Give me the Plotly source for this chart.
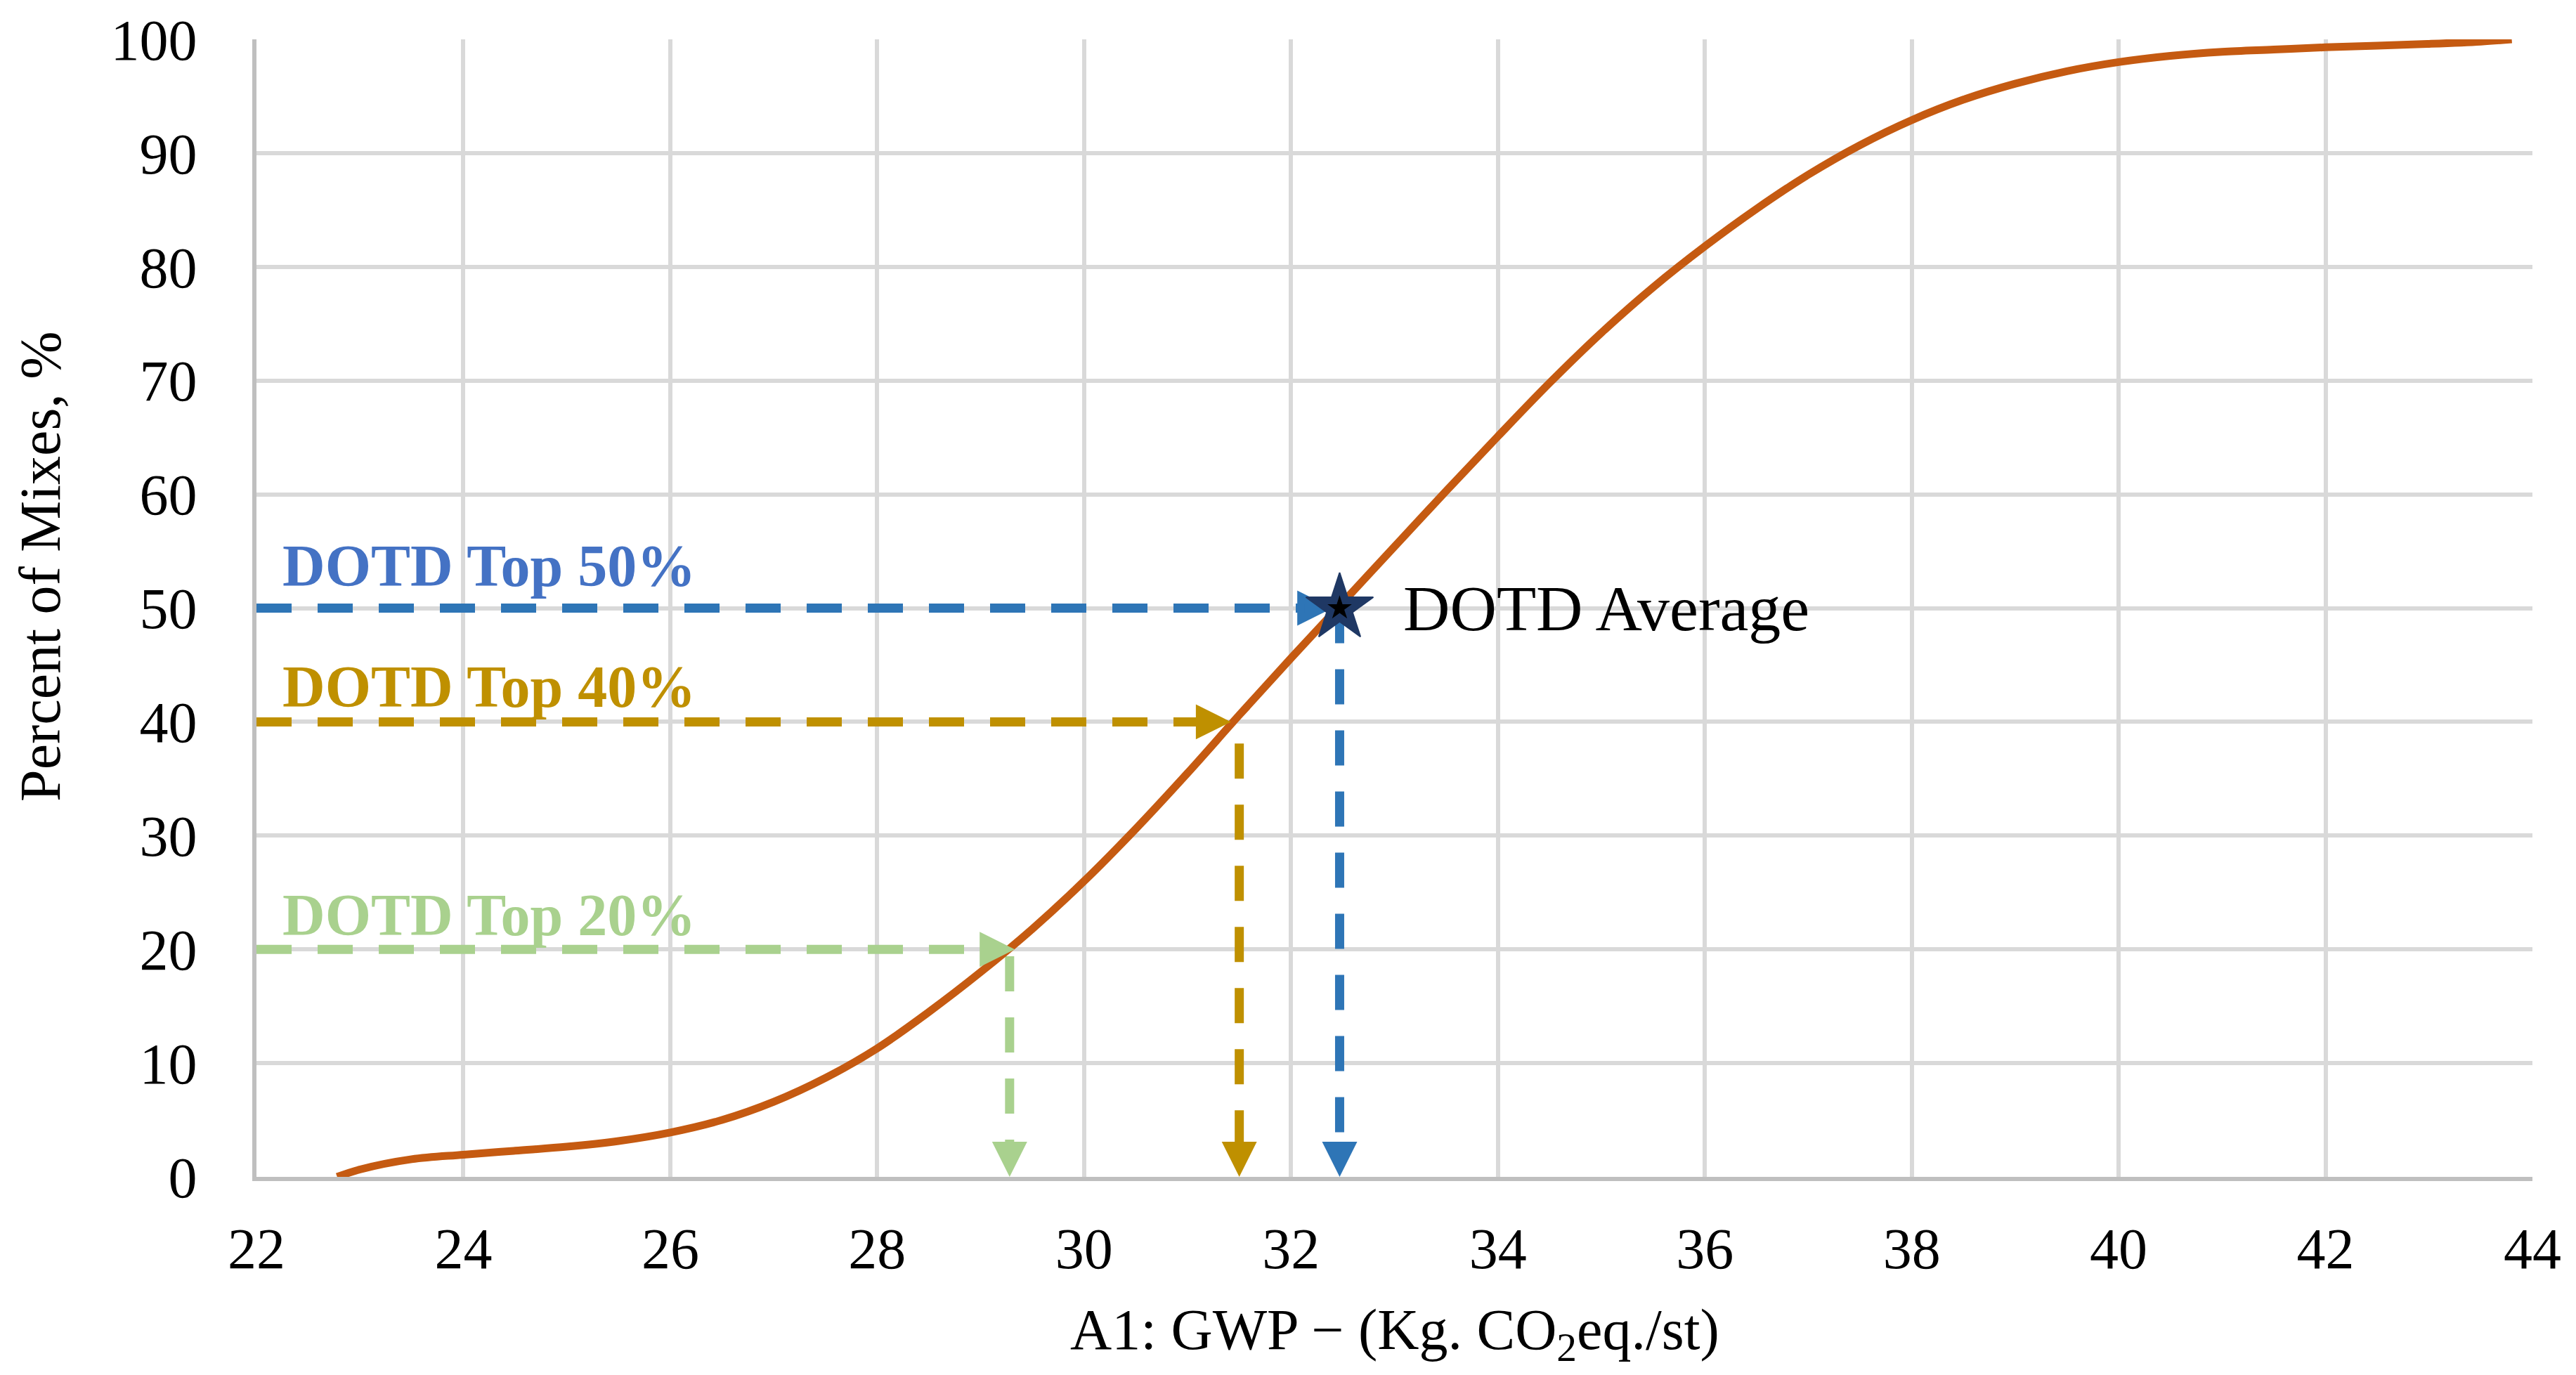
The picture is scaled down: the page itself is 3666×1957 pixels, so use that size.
import plotly.graph_objects as go

# ---------------- data ----------------
gwp = [22.78, 23.0, 23.5, 24.0, 24.5, 25.0, 25.5, 26.0, 26.5, 27.0, 27.5,
       28.0, 28.5, 29.0, 29.5, 30.0, 30.5, 31.0, 31.5, 32.0, 32.5, 33.0, 33.5,
       34.0, 34.5, 35.0, 35.5, 36.0, 36.5, 37.0, 37.5, 38.0, 38.5, 39.0, 39.5,
       40.0, 40.5, 41.0, 41.5, 42.0, 42.5, 43.0, 43.5, 43.8]
pct = [0, 0.65, 1.55, 1.95, 2.3, 2.65, 3.15, 3.9, 5.0, 6.6, 8.7,
       11.3, 14.5, 18.0, 21.8, 26.0, 30.6, 35.5, 40.6, 45.6, 50.5, 55.4, 60.3,
       65.1, 69.8, 74.2, 78.2, 81.8, 85.1, 88.1, 90.7, 92.9, 94.7, 96.1, 97.2,
       98.0, 98.55, 98.9, 99.1, 99.3, 99.45, 99.6, 99.8, 100]

levels = [20, 40, 50]
level_labels = ["DOTD Top 20%", "DOTD Top 40%", "DOTD Top 50%"]
level_gwp = [29.28, 31.50, 32.47]      # x of the vertical drop lines
h_arrow_tip = [29.33, 31.42, 32.40]    # x where horizontal arrows end
v_line_top = [19.4, 38.1, 50.0]        # y where vertical lines start
label_y = [23.0, 43.1, 53.7]
label_x = 22.24
line_start_x = 22

avg_gwp = 32.47
avg_pct = 50
avg_label = "DOTD Average"
avg_label_x = 33.07

x_title = "A1: GWP \u2212 (Kg. CO<sub>2</sub>eq./st)"
y_title = "Percent of Mixes, %"

x_ticks = list(range(22, 45, 2))
y_ticks = list(range(0, 101, 10))

line_colors = ["#A9D18E", "#BF9000", "#2E75B6"]
text_colors = ["#A9D18E", "#BF9000", "#4472C4"]

# ---------------- layout geometry ----------------
W, H = 3666, 1957
ML, MR, MT, MB = 365, 62, 54, 282
px_x = (W - ML - MR) / (x_ticks[-1] - x_ticks[0])
px_y = (H - MT - MB) / (y_ticks[-1] - y_ticks[0])
HEAD_L, HEAD_W = 50, 50   # arrow head length / width in px
FONT = "Liberation Serif"
DASH = "50px,37px"

fig = go.Figure()

# dashed guide lines
for lv, xg, tip, top, col in zip(levels, level_gwp, h_arrow_tip, v_line_top, line_colors):
    fig.add_trace(go.Scatter(
        x=[line_start_x, tip - HEAD_L * 0.8 / px_x], y=[lv, lv], mode="lines",
        line=dict(color=col, width=13, dash=DASH), hoverinfo="skip"))
    fig.add_trace(go.Scatter(
        x=[xg, xg], y=[top, y_ticks[0] + HEAD_L * 0.8 / px_y], mode="lines",
        line=dict(color=col, width=13, dash=DASH), hoverinfo="skip"))

# cumulative curve
fig.add_trace(go.Scatter(
    x=gwp, y=pct, mode="lines",
    line=dict(color="#C55A11", width=11, shape="spline", smoothing=1.0),
    hoverinfo="skip"))

# average star
fig.add_trace(go.Scatter(
    x=[avg_gwp], y=[avg_pct], mode="markers",
    marker=dict(symbol="star", size=72, color="#1F3864",
                line=dict(color="#1F3864", width=2)),
    hoverinfo="skip", cliponaxis=False))
fig.add_trace(go.Scatter(
    x=[avg_gwp], y=[avg_pct], mode="markers",
    marker=dict(symbol="star", size=26, color="#000000"),
    hoverinfo="skip", cliponaxis=False))

# arrow heads as filled triangles
shapes = []
def tri_right(tx, ty):
    bx = tx - HEAD_L / px_x
    dy = HEAD_W / 2 / px_y
    return f"M {tx},{ty} L {bx},{ty + dy} L {bx},{ty - dy} Z"

def tri_down(tx, ty):
    by = ty + HEAD_L / px_y
    dx = HEAD_W / 2 / px_x
    return f"M {tx},{ty} L {tx - dx},{by} L {tx + dx},{by} Z"

for i, (lv, xg, tip, col) in enumerate(zip(levels, level_gwp, h_arrow_tip, line_colors)):
    shapes.append(dict(type="path", path=tri_right(tip, lv), xref="x", yref="y",
                       fillcolor=col, line=dict(width=0),
                       layer="between" if i == 2 else "above"))
    shapes.append(dict(type="path", path=tri_down(xg, y_ticks[0]), xref="x", yref="y",
                       fillcolor=col, line=dict(width=0), layer="above"))

annotations = []
# level labels
for lab, ly, tc in zip(level_labels, label_y, text_colors):
    annotations.append(dict(
        x=label_x, y=ly, xref="x", yref="y", text="<b>" + lab + "</b>",
        showarrow=False, xanchor="left", yanchor="middle",
        font=dict(family=FONT, size=84, color=tc)))

annotations.append(dict(
    x=avg_label_x, y=avg_pct, xref="x", yref="y", text=avg_label,
    showarrow=False, xanchor="left", yanchor="middle",
    font=dict(family=FONT, size=92, color="#000000")))

# axis titles (placed to match the reference's off-centre y title)
annotations.append(dict(
    x=-0.095, y=0.537, xref="paper", yref="paper", text=y_title,
    textangle=-90, showarrow=False, xanchor="center", yanchor="middle",
    font=dict(family=FONT, size=82, color="#000000")))
annotations.append(dict(
    x=0.5, y=-0.1376, xref="paper", yref="paper", text=x_title,
    showarrow=False, xanchor="center", yanchor="middle",
    font=dict(family=FONT, size=82, color="#000000")))

fig.update_layout(
    width=W, height=H,
    margin=dict(l=ML, r=MR, t=MT, b=MB, pad=0),
    paper_bgcolor="white", plot_bgcolor="white",
    showlegend=False,
    font=dict(family=FONT, size=82, color="#000000"),
    annotations=annotations,
    shapes=shapes,
    xaxis=dict(range=[x_ticks[0], x_ticks[-1]], tickvals=x_ticks,
               showgrid=True, gridcolor="#D9D9D9", gridwidth=6,
               showline=True, linecolor="#BFBFBF", linewidth=6,
               zeroline=False, ticks="", ticklabelstandoff=26,
               tickfont=dict(family=FONT, size=82, color="#000000")),
    yaxis=dict(range=[y_ticks[0], y_ticks[-1]], tickvals=y_ticks,
               showgrid=True, gridcolor="#D9D9D9", gridwidth=6,
               showline=True, linecolor="#BFBFBF", linewidth=6,
               zeroline=False, ticks="", ticklabelstandoff=62,
               tickfont=dict(family=FONT, size=82, color="#000000")),
)

fig.write_html("out.html", config={"displayModeBar": False},
               post_script="document.body.style.margin='0';")
